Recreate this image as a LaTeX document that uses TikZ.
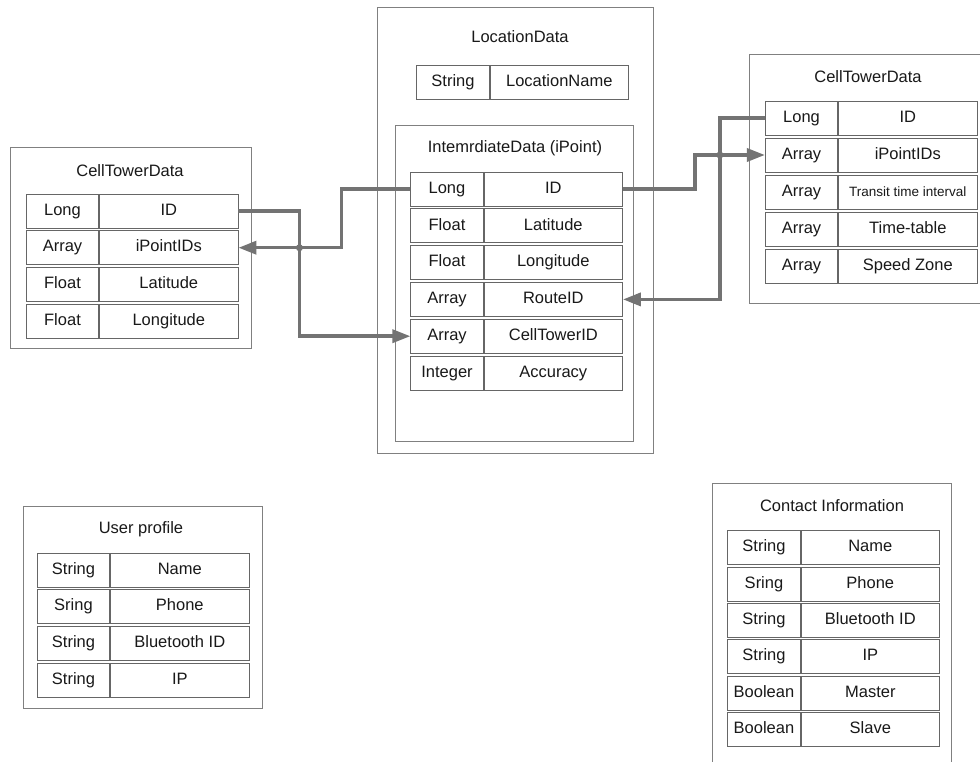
\documentclass[tikz,border=0pt]{standalone}
\usepackage{fontspec}
\setmainfont{Liberation Sans}
\usetikzlibrary{positioning,arrows.meta}
\tikzset{
  frame/.style={draw=black!50, line width=0.8pt},
  title/.style={font=\fontsize{16.5}{19}\selectfont, text=black!90},
  typecell/.style={draw=black!60, line width=0.8pt, minimum width=72.5pt, minimum height=34pt,
    inner sep=0pt, text height=12pt, text depth=3.5pt, font=\fontsize{16.5}{19}\selectfont, text=black!90},
  namecell/.style={typecell, minimum width=138.5pt},
  wire/.style={draw=black!55, line width=3.5pt, -{Triangle[length=18pt,width=13pt]}}
}
\begin{document}
\begin{tikzpicture}[x=1pt,y=-1pt]
      \clip (0,0) rectangle (980,761);
      \fill[white] (0,0) rectangle (980,761);
      % containers
      \draw[frame] (10,147) rectangle (251,348);
      \draw[frame] (377,7) rectangle (653,453);
      \draw[frame] (395,125) rectangle (633,441);
      \draw[frame] (749,54) rectangle (995,303);
      \draw[frame] (23,506) rectangle (262,708);
      \draw[frame] (712,483) rectangle (951,775);
      \node[title] (ltitle) at (130,171) {CellTowerData};
      \node[title] (loctitle) at (520,37) {LocationData};
      \node[title] (mtitle) at (515,148) {IntemrdiateData (iPoint)};
      \node[title] (rtitle) at (868,77) {CellTowerData};
      \node[title] (utitle) at (141,529) {User profile};
      \node[title] (ctitle) at (832,506) {Contact Information};
      % left cell tower table
      \foreach \ty/\fd [count=\i] in {Long/ID, Array/iPointIDs, Float/Latitude, Float/Longitude} {
        \node[typecell] (lt\i) at (62.5,{211+36.7*(\i-1)}) {\ty};
        \node[namecell, right=0pt of lt\i] (lf\i) {\fd};
      }
      % location data
      \node[typecell] (loct) at (453,82) {String};
      \node[namecell, right=0pt of loct] (locf) {LocationName};
      \foreach \ty/\fd [count=\i] in {Long/ID, Float/Latitude, Float/Longitude, Array/RouteID,
          Array/CellTowerID, Integer/Accuracy} {
        \node[typecell] (mt\i) at (447,{189+36.8*(\i-1)}) {\ty};
        \node[namecell, right=0pt of mt\i] (mf\i) {\fd};
      }
      % right cell tower table
      \foreach \ty/\fd [count=\i] in {Long/ID, Array/iPointIDs,
          Array/{\fontsize{13.5}{15}\selectfont Transit time interval}, Array/Time-table, Array/Speed Zone} {
        \node[typecell] (rt\i) at (801.5,{118+37*(\i-1)}) {\ty};
        \node[namecell, right=0pt of rt\i] (rf\i) {\fd};
      }
      % user profile
      \foreach \ty/\fd [count=\i] in {String/Name, Sring/Phone, String/Bluetooth ID, String/IP} {
        \node[typecell] (ut\i) at (73.5,{570+36.7*(\i-1)}) {\ty};
        \node[namecell, right=0pt of ut\i] (uf\i) {\fd};
      }
      % contact information
      \foreach \ty/\fd [count=\i] in {String/Name, Sring/Phone, String/Bluetooth ID, String/IP,
          Boolean/Master, Boolean/Slave} {
        \node[typecell] (ct\i) at (764,{547.5+36.4*(\i-1)}) {\ty};
        \node[namecell, right=0pt of ct\i] (cf\i) {\fd};
      }
      % links
      \draw[wire] (lf1.east) -- ++(61,0) |- (mt5.west);
      \draw[wire] (mt1.west) -- ++(-69,0) |- (lf2.east);
      \draw[wire] (mf1.east) -- ++(72,0) |- (rt2.west);
      \draw[wire] (rt1.west) -- ++(-45,0) |- (mf4.east);
      \fill[black!55] ([xshift=61]lf1.east |- lf2.east) circle (3.5);
      \fill[black!55] ([xshift=-45]rt1.west |- rt2.west) circle (3.5);
    \end{tikzpicture}
\end{document}
